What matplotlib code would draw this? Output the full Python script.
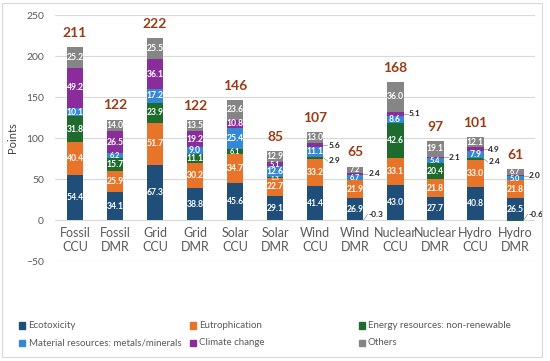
import numpy as np
import matplotlib.pyplot as plt
from matplotlib.patches import Rectangle

plt.rcParams['font.family'] = ['Lato', 'DejaVu Sans']

# bars, left to right
categories = ['Fossil\nCCU', 'Fossil\nDMR', 'Grid\nCCU', 'Grid\nDMR', 'Solar\nCCU', 'Solar\nDMR',
              'Wind\nCCU', 'Wind\nDMR', 'Nuclear\nCCU', 'Nuclear\nDMR', 'Hydro\nCCU', 'Hydro\nDMR']

# impact categories (stacked bottom -> top)
ecotoxicity = [54.4, 34.1, 67.3, 38.8, 45.6, 29.1, 41.4, 26.9, 43.0, 27.7, 40.8, 26.5]
eutrophication = [40.4, 25.9, 51.7, 30.2, 34.7, 22.7, 33.2, 21.9, 33.1, 21.8, 33.0, 21.8]
energy = [31.8, 15.7, 23.9, 11.1, 6.1, 1.3, 2.9, -0.3, 42.6, 20.4, 2.4, -0.6]
material = [10.1, 6.2, 17.2, 9.0, 25.4, 12.6, 11.1, 6.7, 8.6, 5.4, 7.9, 5.0]
climate = [49.2, 26.5, 36.1, 19.2, 10.8, 5.1, 5.6, 2.4, 5.1, 2.1, 4.9, 2.0]
others = [25.2, 14.0, 25.5, 13.5, 23.6, 12.9, 13.0, 7.2, 36.0, 19.1, 12.1, 6.7]

totals = [211, 122, 222, 122, 146, 85, 107, 65, 168, 97, 101, 61]

series_names = ['Ecotoxicity', 'Eutrophication', 'Energy resources: non-renewable',
                'Material resources: metals/minerals', 'Climate change', 'Others']
series = [ecotoxicity, eutrophication, energy, material, climate, others]
colors = ['#1f4e79', '#e8742a', '#1e6b2e', '#3489d6', '#8a2c9c', '#858585']

# labels drawn beside the bar with a leader line: (bar, series)
outside = {(6, 2), (6, 4), (7, 2), (7, 4), (8, 4), (9, 4), (10, 2), (10, 4), (11, 2), (11, 4)}

fig = plt.figure(figsize=(5.5, 3.61), dpi=100)
ax = fig.add_axes([0.1, 0.277, 0.873, 0.681])

x = np.arange(len(categories))
width = 0.42
pos_bottom = np.zeros(len(categories))
neg_bottom = np.zeros(len(categories))

for s, (vals, col) in enumerate(zip(series, colors)):
    vals = np.array(vals)
    bottoms = np.where(vals >= 0, pos_bottom, neg_bottom)
    ax.bar(x, vals, width, bottom=bottoms, color=col, zorder=3)
    for i, v in enumerate(vals):
        mid = bottoms[i] + v / 2
        if (i, s) in outside:
            if v < 0:
                ly = 7
            elif s == 2:
                ly = mid - 4
            else:
                ly = mid
            ax.plot([x[i] + width / 2, x[i] + width / 2 + 0.1], [mid, ly],
                    color='#a6a6a6', lw=0.6, zorder=4)
            ax.text(x[i] + width / 2 + 0.12, ly, f'{v:.1f}', ha='left', va='center',
                    fontsize=6, fontweight='bold', color='#262626', zorder=5)
        elif abs(v) < 4:
            ax.text(x[i], mid - 2, f'{v:.1f}', ha='center', va='center',
                    fontsize=4.5, fontweight='bold', color='white', zorder=5)
        else:
            fs = 6.2 if abs(v) >= 7.5 else 5.3
            ax.text(x[i], mid, f'{v:.1f}', ha='center', va='center',
                    fontsize=fs, fontweight='bold', color='white', zorder=5)
    pos_bottom += np.where(vals >= 0, vals, 0)
    neg_bottom += np.where(vals < 0, vals, 0)

for i, t in enumerate(totals):
    ax.annotate(str(t), (x[i], pos_bottom[i]), xytext=(0, 6), textcoords='offset points',
                ha='center', va='bottom', fontsize=10, fontweight='bold', color='#9c3b14')

for i, c in enumerate(categories):
    ax.text(x[i], -9, c, ha='center', va='top', fontsize=9, color='#595959', linespacing=1.15)

ax.set_xlim(-0.5, len(categories) - 0.5)
ax.set_ylim(-50, 250)
ax.set_yticks(np.arange(-50, 251, 50))
ax.set_xticks([])
ax.tick_params(axis='y', length=0, labelsize=7.5, labelcolor='#595959', pad=8)
ax.grid(axis='y', color='#d9d9d9', lw=0.8, zorder=0)
for sp in ax.spines.values():
    sp.set_visible(False)
ax.set_ylabel('Points', fontsize=8, color='#404040', labelpad=6)

# legend, laid out like the original
leg_x = [0.035, 0.345, 0.652]
leg_y = [0.098, 0.050]
for k, (name, col) in enumerate(zip(series_names, colors)):
    lx = leg_x[k % 3]
    ly = leg_y[k // 3]
    fig.patches.append(Rectangle((lx, ly - 0.009), 0.011, 0.018, transform=fig.transFigure,
                                 color=col, figure=fig))
    fig.text(lx + 0.017, ly, name, fontsize=7, color='#595959', va='center')

fig.patches.append(Rectangle((0.004, 0.01), 0.981, 0.982, transform=fig.transFigure,
                             fill=False, edgecolor='#d9d9d9', lw=0.8, figure=fig))

fig.savefig('out.png', dpi=100)
